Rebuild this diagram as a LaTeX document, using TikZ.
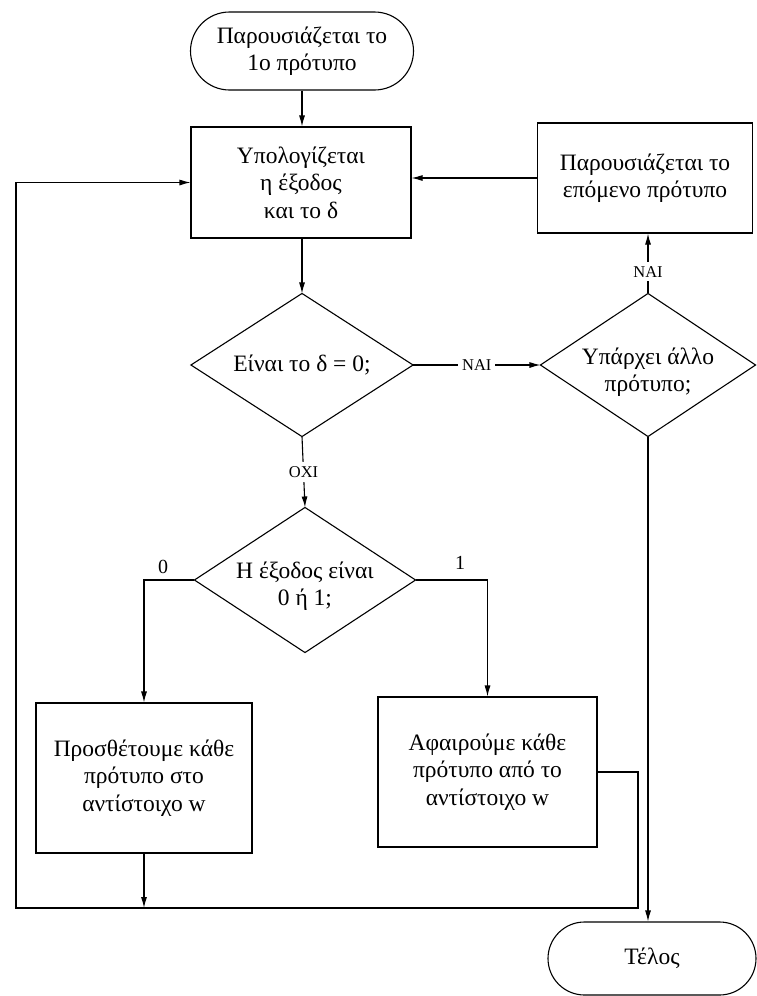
\documentclass[tikz,border=0pt]{standalone}
\usepackage{fontspec}
\setmainfont{Liberation Serif}
\usetikzlibrary{arrows.meta,shapes.misc}
\begin{document}
\begin{tikzpicture}[x=1pt,y=-1pt,line width=1.1pt,
  >={Latex[length=11pt,width=6pt]},
  mainfont/.style={font=\fontsize{23.5}{27.5}\selectfont},
  box/.style={draw,rectangle,align=center,inner sep=0pt,mainfont},
  term/.style={draw,rounded rectangle,align=center,inner sep=0pt,mainfont},
  dframe/.style={rectangle,draw=none,inner sep=0pt},
  dtext/.style={align=center,inner sep=0pt,mainfont},
  lab/.style={fill=white,inner sep=4pt,font=\fontsize{16.5}{18}\selectfont},
  num/.style={inner sep=0pt,font=\fontsize{20}{22}\selectfont}]
\useasboundingbox[fill=white] (0,0) rectangle (756,996);

% terminals and boxes
\node[term,minimum width=223pt,minimum height=78pt] (top) at (302,51) {Παρουσιάζεται το\\1ο πρότυπο};
\node[box,minimum width=220pt,minimum height=111pt] (b1) at (301,182.5) {Υπολογίζεται\\η έξοδος\\και το δ};
\node[box,minimum width=215pt,minimum height=110pt] (b2) at (645,178) {Παρουσιάζεται το\\επόμενο πρότυπο};
\node[box,minimum width=216pt,minimum height=150pt] (b3) at (144,778) {Προσθέτουμε κάθε\\πρότυπο στο\\αντίστοιχο w};
\node[box,minimum width=219pt,minimum height=150pt] (b4) at (487.5,772) {Αφαιρούμε κάθε\\πρότυπο από το\\αντίστοιχο w};
\node[term,minimum width=208pt,minimum height=73pt] (end) at (652,958.5) {Τέλος};

% diamonds
\node[dframe,minimum width=221pt,minimum height=142pt] (d1) at (302,365) {};
\draw (d1.north) -- (d1.east) -- (d1.south) -- (d1.west) -- cycle;
\node[dtext] (d1t) at (d1.center) {Είναι το δ = 0;};

\node[dframe,minimum width=214pt,minimum height=142pt] (d2) at (648,365) {};
\draw (d2.north) -- (d2.east) -- (d2.south) -- (d2.west) -- cycle;
\node[dtext] (d2t) at ([yshift=-7pt]d2.center) {Υπάρχει άλλο\\πρότυπο;};

\node[dframe,minimum width=220pt,minimum height=144pt] (d3) at (305,580) {};
\draw (d3.north) -- (d3.east) -- (d3.south) -- (d3.west) -- cycle;
\node[dtext] (d3t) at ([yshift=-6pt]d3.center) {Η έξοδος είναι\\0 ή 1;};

% branch labels
\node[num] (l0) at (163,567) {0};
\node[num] (l1) at (460,563) {1};

% connectors
\draw[->] (top.south) -- (top.south |- b1.north);
\draw[->] (b2.west) -- (b2.west -| b1.east);
\draw[->] (d1.north |- b1.south) -- (d1.north);
\draw[->] (d1.east) -- node[lab] {ΝΑΙ} (d2.west);
\draw[->] (d2.north) -- node[lab,pos=0.36] {ΝΑΙ} (d2.north |- b2.south);
\draw[->] (d1.south) -- node[lab,pos=0.5] {ΟΧΙ} (d3.north);
\draw[->] (d3.west) -| (b3.north);
\draw[->] (d3.east) -| (b4.north);
\coordinate (lr) at (638,908);
\coordinate (ll) at (16,908);
\draw[->] (b4.east) -| (lr) -- (ll) |- (b1.west);
\draw[->] (b3.south) -- (b3.south |- ll);
\draw[->] (d2.south) -- (d2.south |- end.north);
\end{tikzpicture}
\end{document}
